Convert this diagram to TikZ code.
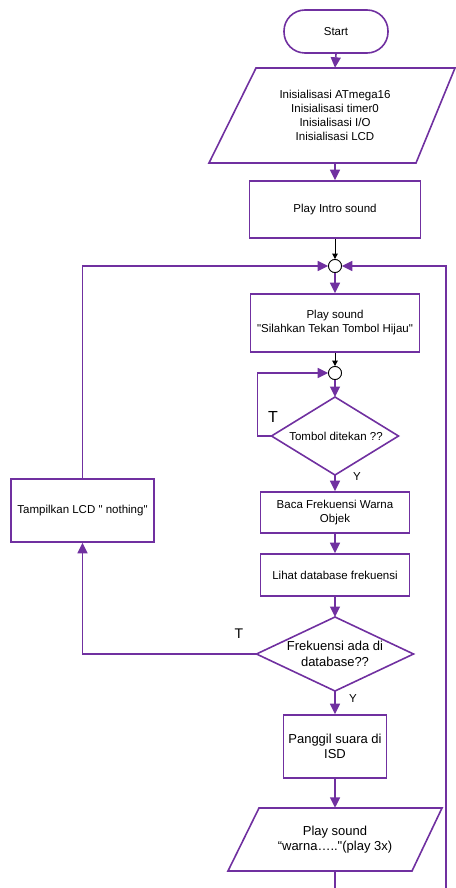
\documentclass[tikz,border=0pt]{standalone}
\usepackage{fontspec}
\setmainfont[Ligatures=TeXOff]{Liberation Sans}
\usetikzlibrary{arrows.meta,shapes.geometric}
\definecolor{fpurple}{RGB}{112,48,160}
\begin{document}
\begin{tikzpicture}[x=1pt,y=-1pt,
  norm/.style={font=\fontsize{11.5}{14}\selectfont},
  big/.style={font=\fontsize{13}{15.5}\selectfont},
  box/.style={draw=fpurple,line width=1.6pt,inner sep=0pt,align=center,norm},
  txt/.style={inner sep=0pt,align=center,norm},
  shp/.style={draw=fpurple,line width=1.6pt},
  dia/.style={diamond,draw=fpurple,line width=1.6pt,inner sep=0pt,outer sep=0pt},
  junc/.style={circle,draw=black,fill=white,line width=0.8pt,minimum size=13pt,inner sep=0pt},
  arr/.style={-{Triangle[length=10.5pt,width=10pt]},draw=fpurple,line width=1.6pt},
  pline/.style={draw=fpurple,line width=1.6pt},
  blk/.style={-{Triangle[length=5.5pt,width=5.5pt]},draw=black,line width=0.8pt},
  lab/.style={inner sep=0pt}]
\useasboundingbox (0,0) rectangle (455,888);

% start
\node[box,minimum width=104pt,minimum height=43pt,rounded corners=21pt] (start) at (336,31.5) {Start};

% init parallelogram
\draw[shp] (256,68) -- (455,68) -- (416,163) -- (209,163) -- cycle;
\node[txt,minimum height=95pt,minimum width=180pt] (init) at (335,115.5)
  {Inisialisasi ATmega16\\Inisialisasi timer0\\Inisialisasi I/O\\Inisialisasi LCD};

\node[box,minimum width=171pt,minimum height=57pt] (intro) at (335,209.5) {Play Intro sound};
\node[junc] (c1) at (335,266) {};
\node[box,minimum width=169pt,minimum height=58pt] (play) at (335,323) {Play sound\\"Silahkan Tekan Tombol Hijau"};
\node[junc] (c2) at (335,373) {};
\node[dia,minimum width=127pt,minimum height=78pt] (d1) at (335,436) {};
\node[txt] (d1t) at (336,436) {Tombol ditekan ??};
\node[box,minimum width=149pt,minimum height=41pt] (baca) at (335,512.5) {Baca Frekuensi Warna\\Objek};
\node[box,minimum width=149pt,minimum height=42pt] (lihat) at (335,575) {Lihat database frekuensi};
\node[dia,minimum width=157pt,minimum height=74pt] (d2) at (335,654) {};
\node[txt,big] (d2t) at (335,654) {Frekuensi ada di\\database??};
\node[box,big,minimum width=103pt,minimum height=63pt] (pang) at (335,746.5) {Panggil suara di\\ISD};

% second parallelogram
\draw[shp] (259,808) -- (442,808) -- (412,871) -- (228,871) -- cycle;
\node[txt,big,minimum height=63pt,minimum width=150pt] (p2) at (335,839.5) {Play sound\\“warna….."(play 3x)};

\node[box,minimum width=143pt,minimum height=63pt] (tamp) at (82.5,510.5) {Tampilkan LCD " nothing"};

\coordinate (bot) at (335,888);
\coordinate (rb) at (446,888);

% connectors
\draw[arr] (start.south) -- (init.north);
\draw[arr] (init.south) -- (intro.north);
\draw[blk] (intro.south) -- (c1.north);
\draw[arr] (c1.south) -- (play.north);
\draw[blk] (play.south) -- (c2.north);
\draw[arr] (c2.south) -- (d1.north);
\draw[arr] (d1.west) -- ++(-14,0) |- (c2.west);
\draw[arr] (d1.south) -- (baca.north);
\draw[arr] (baca.south) -- (lihat.north);
\draw[arr] (lihat.south) -- (d2.north);
\draw[arr] (d2.west) -| (tamp.south);
\draw[arr] (d2.south) -- (pang.north);
\draw[arr] (pang.south) -- (p2.north);
\draw[pline] (p2.south) -- (bot);
\draw[arr] (tamp.north) -- (tamp.north |- c1) -- (c1.west);
\draw[arr] (rb) -- (rb |- c1) -- (c1.east);

% redraw junctions on top
\node[junc] at (c1) {};
\node[junc] at (c2) {};

% labels
\node[lab,font=\fontsize{16}{16}\selectfont] (t1) at (273,417) {T};
\node[lab,font=\fontsize{14}{14}\selectfont] (t2) at (239,634) {T};
\node[lab,font=\fontsize{11.5}{12}\selectfont] (y1) at (357,477) {Y};
\node[lab,font=\fontsize{11.5}{12}\selectfont] (y2) at (353,699) {Y};
\end{tikzpicture}
\end{document}
